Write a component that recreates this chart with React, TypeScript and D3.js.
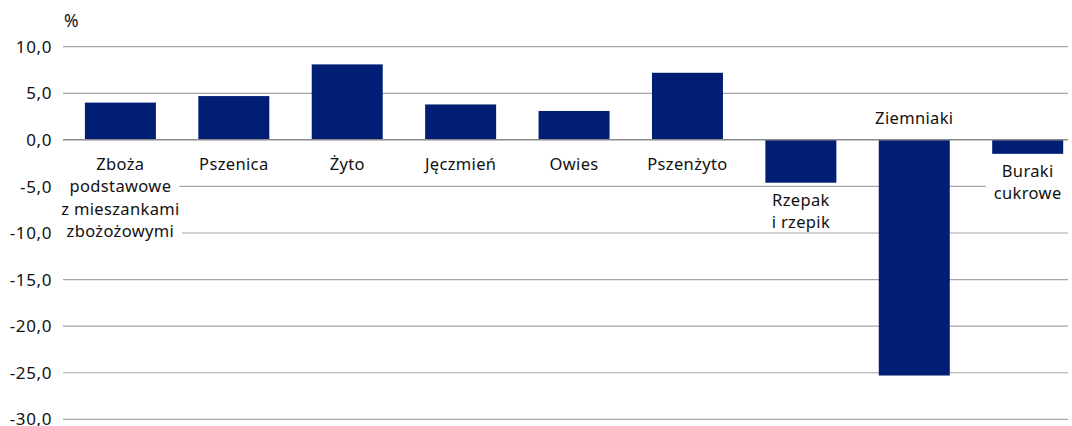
import React, { useEffect, useRef } from "react";
import * as d3 from "d3";

const categories: string[][] = [
  ["Zboża", "podstawowe", "z mieszankami", "zbożożowymi"],
  ["Pszenica"],
  ["Żyto"],
  ["Jęczmień"],
  ["Owies"],
  ["Pszenżyto"],
  ["Rzepak", "i rzepik"],
  ["Ziemniaki"],
  ["Buraki", "cukrowe"],
];
const values: number[] = [4.0, 4.7, 8.1, 3.8, 3.1, 7.2, -4.6, -25.3, -1.5];
const yTicks: number[] = [10, 5, 0, -5, -10, -15, -20, -25, -30];
const unitLabel = "%";

const W = 1072;
const H = 426;
const FONT = "'Noto Sans', 'Open Sans', sans-serif";
const BAR = "#001e73";

export default function App() {
  const ref = useRef<SVGSVGElement | null>(null);

  useEffect(() => {
    const svg = d3.select(ref.current);
    svg.selectAll("*").remove();

    const y = d3.scaleLinear().domain([-30, 10]).range([419.3, 46.7]);
    const keys = categories.map((c) => c.join(" "));
    const x = d3
      .scaleBand<string>()
      .domain(keys)
      .range([63.7, 1084.4])
      .paddingInner(0.374)
      .paddingOuter(0.187);
    const gridX0 = 63;
    const gridX1 = 1068;

    // gridlines
    svg
      .append("g")
      .selectAll("line")
      .data(yTicks.filter((t) => t !== 0))
      .join("line")
      .attr("x1", gridX0)
      .attr("x2", gridX1)
      .attr("y1", (d) => y(d))
      .attr("y2", (d) => y(d))
      .attr("stroke", "#a6a6a6")
      .attr("stroke-width", 1.2);

    // tick labels
    svg
      .append("g")
      .selectAll("text")
      .data(yTicks)
      .join("text")
      .attr("x", 52)
      .attr("y", (d) => y(d) + 6.1)
      .attr("text-anchor", "end")
      .attr("font-family", FONT)
      .attr("font-size", 17)
      .attr("letter-spacing", 0.6)
      .attr("fill", "#111")
      .text((d) => d3.format(".1f")(d).replace(".", ",").replace("−", "-"));

    svg
      .append("text")
      .attr("x", 64)
      .attr("y", 27)
      .attr("font-family", FONT)
      .attr("font-size", 17.5)
      .attr("fill", "#111")
      .text(unitLabel);

    // bars
    svg
      .append("g")
      .selectAll("rect")
      .data(values)
      .join("rect")
      .attr("x", (_, i) => x(keys[i])!)
      .attr("width", x.bandwidth())
      .attr("y", (d) => Math.min(y(d), y(0)))
      .attr("height", (d) => Math.abs(y(d) - y(0)))
      .attr("fill", BAR);

    // zero line
    svg
      .append("line")
      .attr("x1", gridX0)
      .attr("x2", gridX1)
      .attr("y1", y(0))
      .attr("y2", y(0))
      .attr("stroke", "#8a8a8a")
      .attr("stroke-width", 1.5);

    // category labels
    const lg = svg.append("g");
    categories.forEach((lines, i) => {
      const v = values[i];
      const cx = x(keys[i])! + x.bandwidth() / 2;
      let base: number;
      let lh = 22.5;
      if (v >= 0) {
        base = y(0) + 30;
      } else if (v < -10) {
        base = y(0) - 16;
      } else {
        base = y(v) + 23.5;
        lh = 21.5;
      }
      lines.forEach((ln, j) => {
        const g = lg.append("g");
        const rect = g.append("rect").attr("fill", "#fff");
        const t = g
          .append("text")
          .attr("x", cx)
          .attr("y", base + j * lh)
          .attr("text-anchor", "middle")
          .attr("font-family", FONT)
          .attr("font-size", 16.5)
          .attr("letter-spacing", 0.35)
          .attr("fill", "#111")
          .text(ln);
        const bb = (t.node() as SVGTextElement).getBBox();
        rect
          .attr("x", bb.x - 8)
          .attr("width", bb.width + 16)
          .attr("y", base + j * lh - 15)
          .attr("height", 17);
      });
    });
  }, []);

  return (
    <svg
      ref={ref}
      width={W}
      height={H}
      style={{ position: "absolute", left: 0, top: 0, background: "#fff" }}
    />
  );
}
